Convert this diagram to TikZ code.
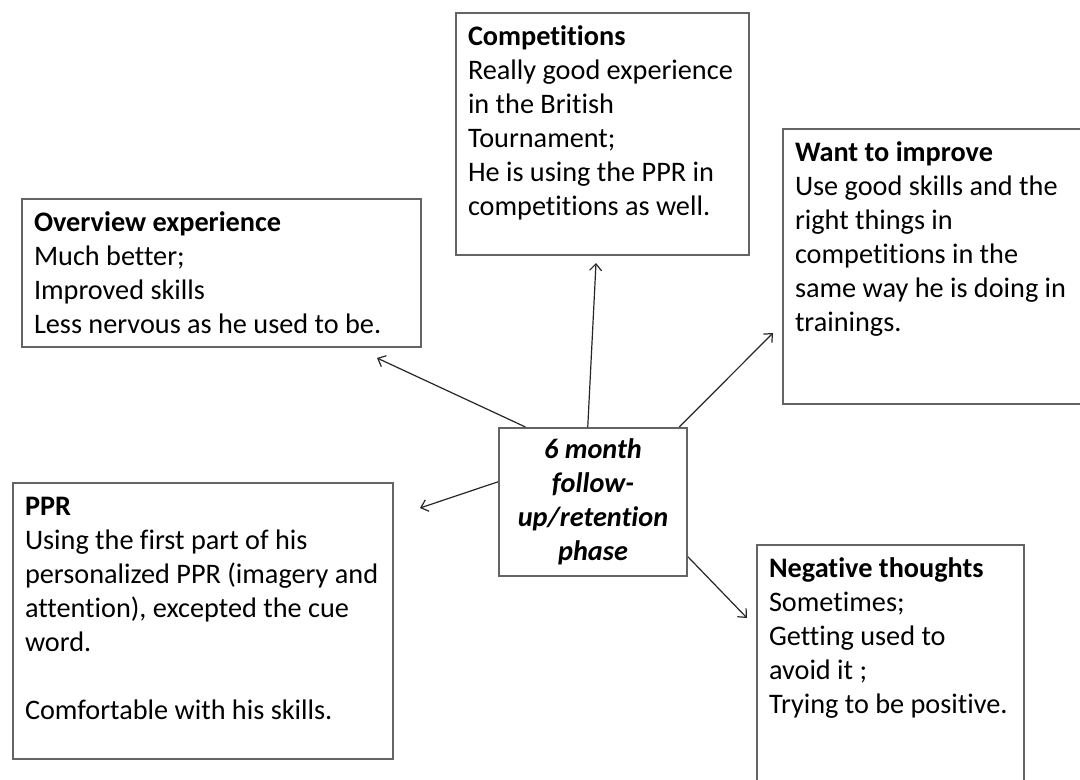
\documentclass[tikz,border=0pt]{standalone}
\usepackage{fontspec}
\setmainfont{Carlito}[Ligatures=NoCommon]
\usetikzlibrary{arrows.meta}

\definecolor{boxgray}{RGB}{100,100,100}
\newcommand\boxfont{\fontsize{21.2pt}{25.5pt}\selectfont}
% text block of a box: width, height, lines
\newcommand\boxbody[3]{\parbox[t][#2][t]{#1}{\raggedright\strut #3}}

\begin{document}
\begin{tikzpicture}[x=0.75pt,y=-0.75pt,
    box/.style={draw=boxgray,line width=1.5pt,anchor=north west,inner xsep=9pt,inner ysep=6.75pt,font=\boxfont},
    hub/.style={draw=boxgray,line width=1.5pt,minimum width=141pt,minimum height=111pt,align=center,font=\boxfont\bfseries\itshape},
    link/.style={draw=black!85,line width=0.9pt,-{Straight Barb[length=5pt,width=9pt]}}]
  \useasboundingbox (0,0) rectangle (1080,780);
  \fill[white] (0,0) rectangle (1080,780);
  \clip (0,0) rectangle (1080,780);

  \node[hub] (phase) at (593,502) {6 month\\follow-\\up/retention\\phase};

  \node[box] (comp) at (455,12) {\boxbody{201.75pt}{168pt}{\textbf{Competitions}\\Really good experience\\in the British\\Tournament;\\He is using the PPR in\\competitions as well.}};
  \node[box] (want) at (782,128) {\boxbody{216.75pt}{192.75pt}{\textbf{Want to improve}\\Use good skills and the\\right things in\\competitions in the\\same way he is doing in\\trainings.}};
  \node[box] (over) at (21,198) {\boxbody{281.25pt}{97.5pt}{\textbf{Overview experience}\\Much better;\\Improved skills\\Less nervous as he used to be.}};
  \node[box] (ppr) at (12,482) {\boxbody{267pt}{193.5pt}{\textbf{PPR}\\Using the first part of his\\personalized PPR (imagery and\\attention), excepted the cue\\word.\\[25.5pt]Comfortable with his skills.}};
  \node[box] (neg) at (756,544) {\boxbody{182.25pt}{178.5pt}{\textbf{Negative thoughts}\\Sometimes;\\Getting used to\\avoid it ;\\Trying to be positive.}};

  % arrow tips stop short of the boxes
  \coordinate (overTip) at (377,358);
  \coordinate (compTip) at (596,263);
  \coordinate (wantTip) at (773,333);
  \coordinate (pprTip) at (420,508);
  \coordinate (negTip) at (747,618);

  \draw[link] (phase.132) -- (overTip);
  \draw[link] (phase.94) -- (compTip);
  \draw[link] (phase.41) -- (wantTip);
  \draw[link] (phase.168.6) -- (pprTip);
  \draw[link] (phase.330.6) -- (negTip);
\end{tikzpicture}
\end{document}
